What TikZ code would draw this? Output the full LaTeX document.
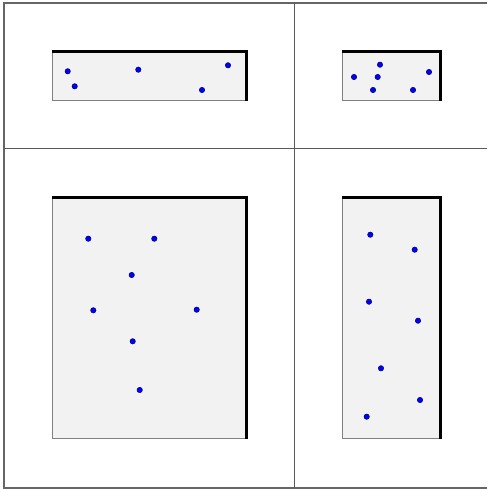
\documentclass[tikz,border=0pt]{standalone}
\begin{document}
\begin{tikzpicture}[x=1pt,y=-1pt,
  frameline/.style={draw=black!60,line width=1.4pt},
  divline/.style={draw=black!65,line width=0.8pt},
  panel/.style={fill=black!5,draw=black!50,line width=0.9pt},
  heavyedge/.style={draw=black,line width=3pt,line cap=butt,line join=miter},
  pt/.style={fill=blue,draw=black!60!blue,line width=0.5pt}]
\useasboundingbox (0,0) rectangle (487,489);
% outer frame
\draw[frameline] (487,3) -- (4,3) -- (4,488) -- (487,488);
% dividers
\draw[divline] (294.5,3) -- (294.5,488);
\draw[divline] (4,148) -- (487,148);
% panels
\foreach \xa/\ya/\xb/\yb in {52.5/51.5/246.5/100, 342.7/51.5/440/100, 52.5/197/246.5/438.3, 342.7/197/440/438.3}{
  \path[panel] (\xa,\ya) rectangle (\xb,\yb);
  \draw[heavyedge] (\xa-0.5,\ya) -- (\xb,\ya) -- (\xb,\yb+1);
}
% dots
\foreach \px/\py in {67.7/71.3, 74.7/86.3, 138.3/69.7, 228/65.3, 202/90,
  380/64.7, 354/77, 377.7/77, 429/72, 373/90, 413/90,
  88.3/238.7, 154.3/238.7, 131.7/275, 93.3/310.3, 196.7/309.7, 132.7/341.3, 139.7/390,
  370.3/234.7, 414.7/249.7, 369/301.7, 418/320.7, 381/368.3, 420/400, 366.7/416.7}{
  \path[pt] (\px,\py) circle[radius=2.7];
}
\end{tikzpicture}
\end{document}
